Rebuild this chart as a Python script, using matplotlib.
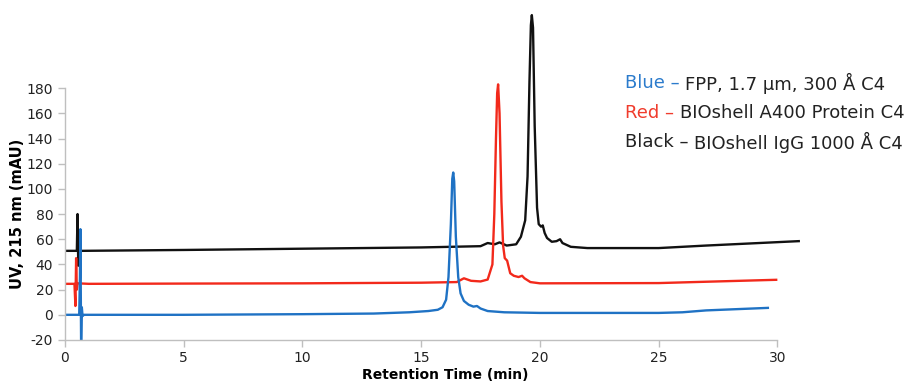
import matplotlib
matplotlib.use('Agg')
import matplotlib.pyplot as plt

plt.rcParams['font.family'] = ['DejaVu Sans']
plt.rcParams['axes.unicode_minus'] = False

# ---- data (time in min, UV in mAU) ----
t_blue = [0.0, 0.60, 0.63, 0.65, 0.68, 0.71, 0.74, 0.80, 5.0, 10.0, 13.0, 14.5, 15.3,
          15.7, 15.9, 16.05, 16.15, 16.25, 16.31, 16.35, 16.39, 16.46, 16.56, 16.66,
          16.8, 17.0, 17.2, 17.35, 17.5, 17.8, 18.5, 20.0, 25.0, 26.0, 27.0, 29.6]
uv_blue = [0.0, 0.0, 30, 68, -24, 6, -1, 0.0, 0.0, 0.5, 1.0, 2.0, 3.0,
           4.0, 6.0, 12, 30, 72, 108, 113, 106, 62, 30, 17,
           11, 8.0, 6.5, 7.0, 5.0, 3.0, 2.0, 1.5, 1.5, 2.0, 3.5, 5.5]

t_red = [0.0, 0.40, 0.44, 0.47, 0.50, 0.53, 1.0, 5.0, 10.0, 15.0, 16.5, 16.8, 17.1,
         17.5, 17.8, 18.0, 18.08, 18.15, 18.2, 18.24, 18.3, 18.38, 18.45, 18.52,
         18.62, 18.75, 18.9, 19.1, 19.25, 19.35, 19.6, 20.0, 25.0, 26.5, 29.95]
uv_red = [24.6, 24.6, 7, 45, 20, 25, 24.6, 24.8, 25.0, 25.5, 26.0, 29.0, 27.0,
          26.5, 28.0, 40, 80, 140, 176, 183, 160, 90, 55, 45,
          43, 33, 31, 30, 31, 29, 26, 25, 25.2, 26, 27.8]

t_black = [0.0, 0.50, 0.53, 0.56, 0.59, 0.62, 0.70, 5.0, 10.0, 15.0, 17.5, 17.8, 18.1,
           18.3, 18.6, 19.0, 19.2, 19.38, 19.48, 19.56, 19.62, 19.66, 19.71, 19.78,
           19.88, 19.95, 20.05, 20.12, 20.2, 20.3, 20.5, 20.7, 20.85, 20.95, 21.3,
           22.0, 25.0, 27.0, 30.9]
uv_black = [50.8, 50.8, 80, 39, 55, 50, 50.8, 51.5, 52.5, 53.5, 54.5, 57, 56,
            57.5, 55, 56, 62, 75, 110, 185, 230, 238, 228, 150,
            85, 72, 70, 71, 65, 61, 58, 58.5, 60, 57, 54,
            53, 53, 55, 58.5]

legend_names = ['Blue', 'Red', 'Black']
legend_desc = ['FPP, 1.7 µm, 300 Å C4', 'BIOshell A400 Protein C4', 'BIOshell IgG 1000 Å C4']
c_blue, c_red, c_black = '#1f72c4', '#f2291b', '#111111'
legend_cols = ['#2b7bcc', '#f03c2d', '#222222']

y_ticks = list(range(-20, 181, 20))
x_ticks = list(range(0, 31, 5))

fig = plt.figure(figsize=(9.15, 3.85), dpi=100)
ax = fig.add_axes([0.0710, 0.1169, 0.8305, 0.8831])

ax.plot(t_black, uv_black, color=c_black, lw=1.7)
ax.plot(t_red, uv_red, color=c_red, lw=1.7)
ax.plot(t_blue, uv_blue, color=c_blue, lw=1.7)

ax.set_xlim(0, 32)
ax.set_ylim(-20, 250)
ax.set_xticks(x_ticks)
ax.set_yticks(y_ticks)
ax.grid(False)
for s in ['top', 'right']:
    ax.spines[s].set_visible(False)
ax.spines['left'].set_bounds(-20, 180)
ax.spines['bottom'].set_bounds(0, 30)
for s in ['left', 'bottom']:
    ax.spines[s].set_color('#bfbfbf')
    ax.spines[s].set_linewidth(1.0)
ax.tick_params(axis='both', colors='#bfbfbf', labelcolor='#222222', labelsize=10,
               length=5, width=1.0)
ax.tick_params(axis='x', pad=3)

ax.set_xlabel('Retention Time (min)', fontsize=10, fontweight='bold',
              family=['Liberation Sans Narrow', 'DejaVu Sans'], labelpad=2)
ax.text(-0.062, 80, 'UV, 215 nm (mAU)', transform=ax.get_yaxis_transform(),
        rotation=90, ha='center', va='center', fontsize=10.5, fontweight='bold')

# coloured legend text
y0 = 0.784
for i, (nm, desc, col) in enumerate(zip(legend_names, legend_desc, legend_cols)):
    y = y0 - i * 0.077
    t1 = fig.text(0.683, y, nm + ' \u2013 ', color=col, fontsize=13, va='center')
    ax.annotate(desc, xy=(1, 0.5), xycoords=t1, va='center', ha='left',
                fontsize=13, color='#222222')

fig.savefig('out.png', dpi=100)
